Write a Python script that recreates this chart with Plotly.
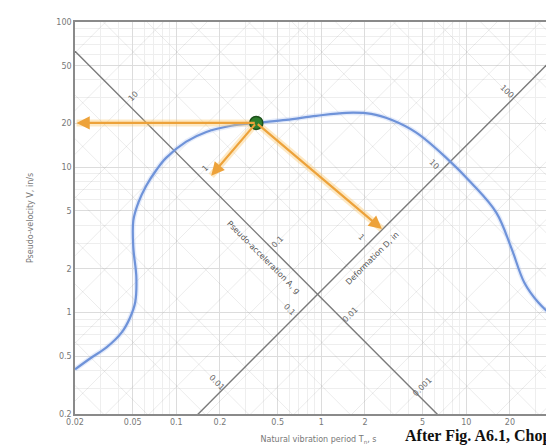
import numpy as np
import plotly.graph_objects as go

# ---------------- data ----------------
G_IN = 386.09  # in/s^2 per g

# response spectrum (period T in s, pseudo-velocity V in in/s)
period = [0.02, 0.026, 0.033, 0.042, 0.048, 0.052, 0.053, 0.0505, 0.0505, 0.0547,
          0.062, 0.073, 0.085, 0.117, 0.161, 0.239, 0.356, 0.574, 0.924, 1.49,
          2.21, 3.04, 4.52, 7.28, 10.8, 16.1, 20.4, 25.1, 31.4, 40.4, 49.0]
pseudo_vel = [0.406, 0.49, 0.575, 0.729, 0.924, 1.17, 1.74, 2.80, 4.29, 5.70,
              7.46, 9.61, 11.6, 15.0, 17.5, 19.3, 20.2, 21.2, 22.6, 23.7,
              23.3, 21.2, 17.3, 11.6, 7.82, 4.87, 2.80, 1.61, 1.17, 0.92, 0.79]

# highlighted point
point_T = [0.356]
point_V = [20.2]

# arrow targets (T, V)
arrow_T = [0.0205, 0.174, 2.62]
arrow_V = [20.2, 8.75, 3.75]

# axis ticks
x_ticks = [0.02, 0.05, 0.1, 0.2, 0.5, 1, 2, 5, 10, 20]
x_ticktext = ["0.02", "0.05", "0.1", "0.2", "0.5", "1", "2", "5", "10", "20"]
y_ticks = [0.2, 0.5, 1, 2, 5, 10, 20, 50, 100]
y_ticktext = ["0.2", "0.5", "1", "2", "5", "10", "20", "50", "100"]

# diagonal scales
A_axis_D = 0.2          # in  (constant-D line carrying the A scale)
D_axis_A = 0.023        # g   (constant-A line carrying the D scale)
A_labels = [10, 1, 0.1, 0.01, 0.001]
A_labeltext = ["10", "1", "0.1", "0.01", "0.001"]
D_labels = [0.01, 0.1, 1, 10, 100]
D_labeltext = ["0.01", "0.1", "1", "10", "100"]
grid_mult = [1, 2, 5]

# ---------------- figure ----------------
XR = [np.log10(0.02), 1.66]
YR = [np.log10(0.2), 2.0]
Tmin, Tmax = 10 ** XR[0], 10 ** XR[1]

fig = go.Figure()

# diagonal grid
Tg = np.array([Tmin * 0.8, Tmax * 1.2])
dx, dy = [], []
for e in range(-5, 5):
    for m in grid_mult:
        D = m * 10.0 ** e
        V = 2 * np.pi * D / Tg
        dx += list(Tg) + [None]
        dy += list(V) + [None]
        A = m * 10.0 ** e
        V2 = A * G_IN * Tg / (2 * np.pi)
        dx += list(Tg) + [None]
        dy += list(V2) + [None]
fig.add_trace(go.Scatter(x=dx, y=dy, mode="lines",
                         line=dict(color="rgba(120,120,120,0.2)", width=0.7),
                         hoverinfo="skip", showlegend=False))

# main diagonal scale lines
VA = 2 * np.pi * A_axis_D / Tg
VD = D_axis_A * G_IN * Tg / (2 * np.pi)
fig.add_trace(go.Scatter(x=list(Tg), y=list(VA), mode="lines",
                         line=dict(color="#7a7a7a", width=1.4), showlegend=False, hoverinfo="skip"))
fig.add_trace(go.Scatter(x=list(Tg), y=list(VD), mode="lines",
                         line=dict(color="#7a7a7a", width=1.4), showlegend=False, hoverinfo="skip"))

annotations = []
# A-scale labels on the constant-D axis line
for a, txt in zip(A_labels, A_labeltext):
    ratio = a * G_IN / (2 * np.pi)          # V/T
    prod = 2 * np.pi * A_axis_D              # V*T
    T = np.sqrt(prod / ratio)
    V = np.sqrt(prod * ratio)
    annotations.append(dict(x=np.log10(T) + 0.045, y=np.log10(V) + 0.045, xref="x", yref="y",
                            text=txt, showarrow=False, textangle=-45,
                            font=dict(size=8, color="#666")))
# D-scale labels on the constant-A axis line
for d, txt in zip(D_labels, D_labeltext):
    ratio = D_axis_A * G_IN / (2 * np.pi)
    prod = 2 * np.pi * d
    T = np.sqrt(prod / ratio)
    V = np.sqrt(prod * ratio)
    annotations.append(dict(x=np.log10(T) - 0.045, y=np.log10(V) + 0.045, xref="x", yref="y",
                            text=txt, showarrow=False, textangle=45,
                            font=dict(size=8, color="#666")))

# titles of diagonal scales
annotations.append(dict(x=np.log10(0.40), y=np.log10(2.4), xref="x", yref="y",
                        text="Pseudo-acceleration A, g", showarrow=False, textangle=45,
                        font=dict(size=8, color="#555")))
annotations.append(dict(x=np.log10(2.25), y=np.log10(2.35), xref="x", yref="y",
                        text="Deformation D, in", showarrow=False, textangle=-45,
                        font=dict(size=8, color="#555")))

# spectrum curve
fig.add_trace(go.Scatter(x=period, y=pseudo_vel, mode="lines",
                         line=dict(color="rgba(150,180,240,0.25)", width=5, shape="spline"),
                         showlegend=False, hoverinfo="skip"))
fig.add_trace(go.Scatter(x=period, y=pseudo_vel, mode="lines",
                         line=dict(color="#6f93d9", width=2.2, shape="spline"),
                         showlegend=False))

# orange arrows with glow
for tt, vv in zip(arrow_T, arrow_V):
    fig.add_trace(go.Scatter(x=[point_T[0], tt], y=[point_V[0], vv], mode="lines",
                             line=dict(color="rgba(250,200,110,0.4)", width=7),
                             showlegend=False, hoverinfo="skip"))
    annotations.append(dict(x=np.log10(tt), y=np.log10(vv), xref="x", yref="y",
                            ax=np.log10(point_T[0]), ay=np.log10(point_V[0]),
                            axref="x", ayref="y", text="", showarrow=True,
                            arrowhead=2, arrowsize=1.2, arrowwidth=2.2,
                            arrowcolor="#eda23a"))

# highlighted point
fig.add_trace(go.Scatter(x=point_T, y=point_V, mode="markers",
                         marker=dict(size=13, color="#2f7d2c", line=dict(color="#1c4f1a", width=1.5)),
                         showlegend=False))

# source note (partly beyond the right edge, as in the original crop)
annotations.append(dict(x=(395 - 67) / (554 - 67), y=-(428 - 406) / (406 - 14),
                        xref="paper", yref="paper", text="<b>After Fig. A6.1, Chopra</b>",
                        showarrow=False, xanchor="left", yanchor="middle",
                        font=dict(family="Liberation Serif", size=16, color="#111")))

fig.update_layout(
    width=554, height=446,
    margin=dict(l=67, r=0, t=14, b=40),
    paper_bgcolor="white", plot_bgcolor="white",
    font=dict(family="DejaVu Sans", size=8, color="#666"),
    annotations=annotations,
    xaxis=dict(type="log", range=XR, tickvals=x_ticks, ticktext=x_ticktext,
               showgrid=True, gridcolor="#dcdcdc", gridwidth=1,
               minor=dict(dtick="D1", showgrid=True, gridcolor="#eeeeee"),
               showline=True, linecolor="#8a8a8a", linewidth=1.5, mirror=True,
               ticks="", tickfont=dict(size=8, color="#777"),
               title=dict(text="Natural vibration period T<sub>n</sub>, s",
                          font=dict(size=8, color="#777"), standoff=10)),
    yaxis=dict(type="log", range=YR, tickvals=y_ticks, ticktext=y_ticktext,
               showgrid=True, gridcolor="#dcdcdc", gridwidth=1,
               minor=dict(dtick="D1", showgrid=True, gridcolor="#eeeeee"),
               showline=True, linecolor="#8a8a8a", linewidth=1.5,
               ticks="", tickfont=dict(size=8, color="#777"),
               title=dict(text="Pseudo-velocity V, in/s",
                          font=dict(size=8, color="#777"), standoff=22)),
)

fig.write_html("out.html")
